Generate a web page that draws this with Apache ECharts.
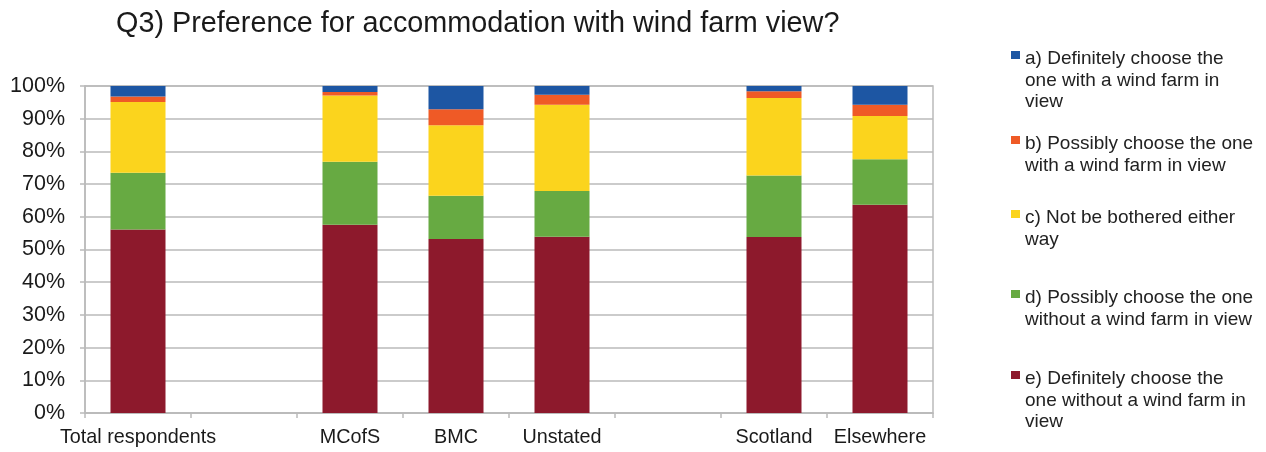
<!DOCTYPE html>
<html>
<head>
<meta charset="utf-8">
<script src="https://cdn.jsdelivr.net/npm/echarts@6/dist/echarts.min.js"></script>
<style>
  html, body { margin: 0; padding: 0; background: #ffffff; }
  #chart { width: 1266px; height: 452px; }
</style>
</head>
<body>
<div id="chart"></div>
<script>
// Respondent groups (blank slots separate the three groupings)
const categories = ['Total respondents', ' ', 'MCofS', 'BMC', 'Unstated', '  ', 'Scotland', 'Elsewhere'];

// Share of answers per group, percent
const definitelyWith    = [3.2, null, 1.8, 7.1, 2.7, null, 1.6, 5.7];
const possiblyWith      = [1.7, null, 1.1, 4.9, 3.0, null, 2.1, 3.5];
const notBothered       = [21.6, null, 20.3, 21.6, 26.4, null, 23.7, 13.2];
const possiblyWithout   = [17.4, null, 19.2, 13.2, 14.0, null, 18.8, 13.9];
const definitelyWithout = [56.1, null, 57.6, 53.2, 53.9, null, 53.8, 63.7];

const yTicks = [0, 10, 20, 30, 40, 50, 60, 70, 80, 90, 100];

const answerNames = [
  'a) Definitely choose the one with a wind farm in view',
  'b) Possibly choose the one with a wind farm in view',
  'c) Not be bothered either way',
  'd) Possibly choose the one without a wind farm in view',
  'e) Definitely choose the one without a wind farm in view'
];
const answerLines = [
  ['a) Definitely choose the', 'one with a wind farm in', 'view'],
  ['b) Possibly choose the one', 'with a wind farm in view'],
  ['c) Not be bothered either', 'way'],
  ['d) Possibly choose the one', 'without a wind farm in view'],
  ['e) Definitely choose the', 'one without a wind farm in', 'view']
];
const answerValues = [definitelyWith, possiblyWith, notBothered, possiblyWithout, definitelyWithout];
const answerColors = ['#1d56a3', '#ef5a26', '#fbd41d', '#67aa42', '#8d192c'];

// Legend block tops (first-line positions differ per entry)
const legendTops = [48.5, 133.5, 207.5, 287.5, 368.5];
const LINE_H = 21.5;

const gridColor = '#bababa';
const font = "'Liberation Sans', Arial, sans-serif";

// Icon: small square near the top of the text block, padded to the block height
function topSquareIcon(h) {
  return 'path://M0,0L0.01,0M0,2.5L9,2.5L9,10.5L0,10.5ZM0,' + h + 'L0.01,' + h;
}

const legends = answerNames.map((name, i) => {
  const h = LINE_H * answerLines[i].length;
  return {
    data: [{ name: name, icon: topSquareIcon(h) }],
    left: 1011,
    top: legendTops[i],
    orient: 'vertical',
    padding: 0,
    itemWidth: 9,
    itemHeight: h,
    selectedMode: false,
    formatter: () => answerLines[i].join('\n'),
    textStyle: { fontFamily: font, fontSize: 19, color: '#222222', lineHeight: LINE_H }
  };
});

// Bottom of the stack first
const series = [4, 3, 2, 1, 0].map(i => ({
  name: answerNames[i],
  type: 'bar',
  stack: 'total',
  barWidth: 55,
  data: answerValues[i],
  itemStyle: { color: answerColors[i] },
  emphasis: { disabled: true }
}));

const chart = echarts.init(document.getElementById('chart'), null, { renderer: 'canvas' });
chart.setOption({
  backgroundColor: '#ffffff',
  animation: false,
  title: {
    text: 'Q3) Preference for accommodation with wind farm view?',
    left: 111,
    top: 5,
    textStyle: { fontFamily: font, fontSize: 28.8, fontWeight: 'normal', color: '#1a1a1a' }
  },
  legend: legends,
  grid: {
    left: 85, top: 86, width: 848, height: 327,
    show: true, borderColor: gridColor, borderWidth: 1.5, backgroundColor: '#ffffff'
  },
  xAxis: {
    type: 'category',
    data: categories,
    axisLine: { lineStyle: { color: gridColor, width: 1.5 } },
    axisTick: { show: true, length: 5, alignWithLabel: false, lineStyle: { color: gridColor, width: 1.5 } },
    axisLabel: { fontFamily: font, fontSize: 19.8, color: '#1a1a1a', margin: 15, interval: 0 }
  },
  yAxis: {
    type: 'value',
    min: yTicks[0],
    max: yTicks[yTicks.length - 1],
    interval: yTicks[1] - yTicks[0],
    axisLine: { show: true, lineStyle: { color: gridColor, width: 1.5 } },
    axisTick: { show: true, length: 5, lineStyle: { color: gridColor, width: 1.5 } },
    splitLine: { lineStyle: { color: gridColor, width: 1.5 } },
    axisLabel: { fontFamily: font, fontSize: 21.5, color: '#1a1a1a', margin: 20, formatter: '{value}%' }
  },
  series: series
});
</script>
</body>
</html>
